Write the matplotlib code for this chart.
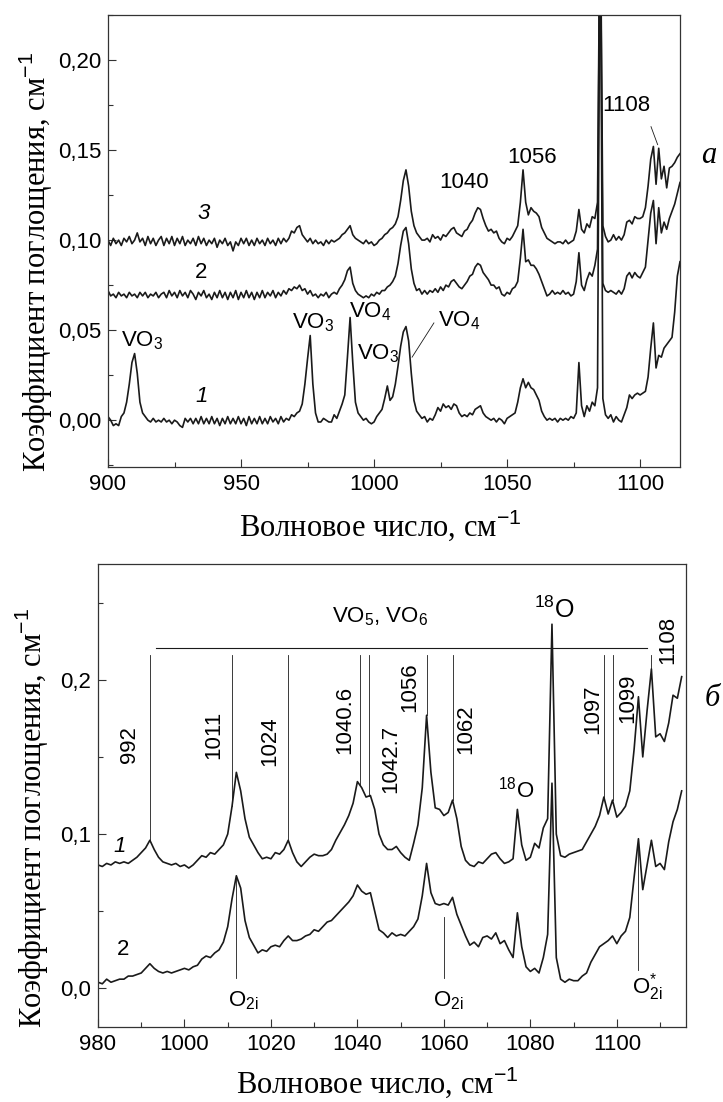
import numpy as np
import matplotlib
matplotlib.use('Agg')
import matplotlib.pyplot as plt
from matplotlib.ticker import MultipleLocator, FuncFormatter

plt.rcParams['font.family'] = ['Liberation Sans', 'DejaVu Sans']
plt.rcParams['mathtext.fontset'] = 'custom'
plt.rcParams['mathtext.rm'] = 'Liberation Sans'
plt.rcParams['mathtext.it'] = 'Liberation Sans:italic'
plt.rcParams['mathtext.bf'] = 'Liberation Sans:bold'

# --- панель (а): 900-1115 см-1, шаг 1 см-1, поглощение в 10^-3 см-1 ---
wn_a = np.arange(900, 1116)
a1 = [2, 0, -3, -2, -3, 2, 4, 10, 20, 32,
      37, 26, 10, 4, 2, 0, -1, 1, -1, 0,
      -1, 1, -1, 0, -2, 0, -1, -3, -4, 1,
      -1, 1, -2, 1, -2, 2, -2, 1, -2, 2,
      -2, 1, -3, 1, -2, 2, -2, 1, -2, 2,
      -2, 1, -3, 2, -2, 1, -2, 2, -2, 1,
      -2, 2, -1, 1, -2, 2, -1, 1, 0, 3,
      2, 4, 5, 9, 20, 34, 47, 20, 4, -1,
      -1, 1, 0, -1, -1, 3, 1, 5, 9, 14,
      35, 57, 32, 10, 4, 2, 0, 1, -1, -2,
      -1, 2, 4, 6, 12, 19, 11, 13, 20, 30,
      41, 49, 52, 44, 26, 11, 5, 3, 1, 2,
      -1, 1, 0, 3, 7, 5, 9, 7, 8, 6,
      9, 8, 4, 2, 3, 2, 4, 3, 6, 7,
      8, 4, 2, 1, 0, 1, -1, 1, 0, -2,
      1, 2, 3, 4, 10, 18, 23, 18, 21, 18,
      17, 14, 11, 5, 2, 0, 1, 0, 1, -1,
      1, 0, 1, 0, 2, 1, 4, 32, 8, 2,
      8, 5, 10, 8, 18, 300, 12, 3, 1, 3,
      -1, 2, 0, -1, 3, 7, 14, 12, 14, 15,
      14, 15, 16, 24, 40, 54, 29, 36, 35, 40,
      42, 44, 46, 60, 80, 88]
a2 = [72, 69, 70, 68, 71, 69, 70, 68, 71, 69,
      70, 68, 71, 69, 71, 68, 70, 69, 71, 68,
      70, 71, 68, 72, 69, 71, 68, 72, 69, 71,
      68, 72, 70, 67, 71, 69, 72, 68, 70, 67,
      71, 68, 72, 68, 71, 67, 71, 68, 72, 67,
      71, 68, 72, 68, 71, 67, 71, 68, 72, 68,
      71, 69, 72, 68, 71, 69, 72, 70, 73, 72,
      74, 73, 75, 72, 73, 70, 72, 69, 70, 68,
      70, 69, 71, 68, 70, 71, 70, 73, 75, 78,
      83, 85, 76, 72, 70, 69, 68, 69, 68, 70,
      69, 71, 70, 72, 72, 74, 75, 77, 80, 87,
      97, 105, 107, 98, 84, 76, 72, 73, 70, 72,
      70, 72, 71, 73, 71, 74, 72, 75, 74, 77,
      78, 76, 74, 73, 75, 77, 80, 81, 85, 87,
      86, 82, 80, 78, 75, 75, 73, 74, 70, 69,
      71, 70, 73, 74, 77, 90, 106, 88, 89, 86,
      86, 84, 81, 77, 73, 69, 70, 72, 70, 71,
      70, 72, 70, 71, 69, 70, 77, 93, 75, 72,
      78, 82, 80, 86, 95, 300, 76, 72, 71, 72,
      71, 70, 72, 70, 73, 80, 82, 79, 82, 80,
      79, 82, 85, 100, 115, 122, 98, 118, 104, 110,
      106, 112, 116, 120, 126, 132]
a3 = [100, 97, 101, 98, 100, 97, 101, 99, 102, 98,
      100, 104, 99, 101, 97, 102, 98, 101, 97, 100,
      102, 97, 101, 98, 102, 97, 101, 98, 102, 97,
      100, 98, 101, 97, 102, 98, 101, 97, 100, 98,
      101, 96, 100, 98, 101, 97, 99, 94, 99, 97,
      101, 98, 101, 97, 100, 97, 101, 98, 100, 97,
      101, 98, 100, 97, 101, 98, 101, 99, 101, 105,
      104, 107, 108, 103, 101, 99, 101, 98, 100, 98,
      99, 97, 100, 98, 100, 99, 100, 101, 103, 104,
      106, 108, 103, 101, 100, 99, 98, 100, 98, 99,
      97, 98, 100, 101, 103, 104, 106, 107, 109, 113,
      122, 133, 139, 130, 116, 108, 104, 102, 100, 100,
      101, 99, 103, 101, 102, 100, 103, 102, 104, 106,
      107, 104, 103, 102, 105, 106, 109, 111, 115, 118,
      117, 112, 108, 105, 106, 104, 105, 101, 99, 98,
      101, 100, 102, 105, 108, 121, 139, 121, 114, 118,
      116, 115, 113, 107, 104, 101, 100, 99, 98, 99,
      99, 98, 100, 98, 99, 100, 105, 117, 106, 104,
      109, 107, 113, 112, 121, 300, 108, 102, 99, 100,
      103, 100, 102, 100, 103, 110, 111, 109, 113, 112,
      112, 113, 118, 130, 145, 152, 131, 151, 134, 141,
      129, 140, 141, 143, 146, 148]

# --- панель (б): 980-1115 см-1 ---
wn_b = np.arange(980, 1116)
b1 = [80, 79, 81, 80, 82, 81, 82, 81, 83, 85,
      88, 91, 96, 90, 85, 82, 81, 80, 81, 79,
      80, 78, 80, 83, 86, 85, 88, 87, 90, 93,
      100, 118, 140, 128, 110, 98, 93, 88, 84, 85,
      84, 88, 87, 90, 96, 88, 82, 79, 82, 85,
      87, 86, 86, 87, 90, 96, 101, 106, 112, 120,
      134, 130, 124, 125, 116, 100, 93, 90, 90, 92,
      88, 85, 83, 94, 106, 130, 177, 140, 117, 116,
      112, 114, 122, 110, 92, 83, 80, 79, 82, 81,
      84, 87, 88, 84, 81, 82, 84, 116, 93, 83,
      85, 94, 91, 104, 110, 236, 100, 86, 85, 87,
      88, 89, 90, 95, 100, 105, 112, 124, 113, 122,
      111, 114, 118, 128, 155, 189, 150, 180, 207, 163,
      165, 160, 172, 190, 188, 202]
b2 = [4, 3, 6, 4, 5, 6, 6, 8, 8, 9,
      10, 13, 16, 13, 11, 10, 11, 10, 11, 12,
      13, 12, 14, 15, 19, 21, 20, 23, 25, 30,
      40, 58, 73, 65, 44, 33, 28, 23, 25, 24,
      27, 28, 27, 31, 34, 31, 31, 32, 34, 35,
      38, 37, 40, 43, 44, 47, 50, 53, 56, 60,
      67, 63, 61, 62, 50, 38, 36, 33, 36, 34,
      35, 34, 37, 40, 45, 60, 81, 62, 55, 54,
      55, 54, 59, 48, 41, 34, 28, 30, 27, 33,
      34, 32, 36, 29, 31, 25, 20, 49, 27, 14,
      11, 13, 10, 20, 35, 133, 20, 6, 4, 6,
      5, 5, 8, 10, 17, 22, 27, 29, 31, 34,
      29, 34, 37, 46, 72, 97, 64, 80, 96, 79,
      81, 77, 95, 108, 116, 128]

# отмеченные полосы VO5, VO6 и O2i
marks_b = [992, 1011, 1024, 1040.6, 1042.7, 1056, 1062, 1097, 1099, 1108]
o2i_b = [1012, 1060, 1105]

W, H = 723, 1102
LC = '#1a1a1a'
SERIF = 'Liberation Serif'


def comma_fmt(nd):
    return FuncFormatter(lambda v, p: f'{v:.{nd}f}'.replace('.', ','))


def style_axes(ax):
    for s in ax.spines.values():
        s.set_color('#333333')
        s.set_linewidth(0.9)
    ax.tick_params(which='both', direction='in', top=False, right=False,
                   labelsize=16, color='#333333')
    ax.tick_params(which='major', length=6, width=0.8, pad=5)
    ax.tick_params(which='minor', length=3.5, width=0.8)


fig = plt.figure(figsize=(W / 100, H / 100), dpi=100)

# ---------------- панель а ----------------
ax1 = fig.add_axes([108 / W, 1 - 467 / H, 572 / W, 452 / H])
for y in (a1, a2, a3):
    ax1.plot(wn_a, np.array(y) * 1e-3, color=LC, lw=1.2)
ax1.set_xlim(900, 1115)
ax1.set_ylim(-0.026, 0.225)
ax1.xaxis.set_major_locator(MultipleLocator(50))
ax1.xaxis.set_minor_locator(MultipleLocator(25))
ax1.yaxis.set_major_locator(MultipleLocator(0.05))
ax1.yaxis.set_minor_locator(MultipleLocator(0.025))
ax1.yaxis.set_major_formatter(comma_fmt(2))
style_axes(ax1)

fs = 16
ax1.text(936, 0.115, '3', fontsize=fs, style='italic', ha='center', va='center')
ax1.text(935, 0.082, '2', fontsize=fs, ha='center', va='center')
ax1.text(935, 0.013, '1', fontsize=fs, style='italic', ha='center', va='center')
ax1.text(905, 0.044, 'VO$_3$', fontsize=fs, ha='left', va='center')
ax1.text(969, 0.054, 'VO$_3$', fontsize=fs, ha='left', va='center')
ax1.text(990.5, 0.060, 'VO$_4$', fontsize=fs, ha='left', va='center')
ax1.text(993.5, 0.037, 'VO$_3$', fontsize=fs, ha='left', va='center')
ax1.text(1024, 0.055, 'VO$_4$', fontsize=fs, ha='left', va='center')
ax1.plot([1022.5, 1014.3], [0.054, 0.035], color=LC, lw=0.6)
ax1.text(1034, 0.132, '1040', fontsize=fs, ha='center', va='center')
ax1.text(1059.5, 0.146, '1056', fontsize=fs, ha='center', va='center')
ax1.text(1095, 0.175, '1108', fontsize=fs, ha='center', va='center')
ax1.plot([1104.1, 1106.6], [0.163, 0.153], color=LC, lw=0.6)
ax1.text(1.05, 0.69, 'а', transform=ax1.transAxes, fontsize=22,
         style='italic', family=SERIF, ha='center', va='center')

# ---------------- панель б ----------------
ax2 = fig.add_axes([98 / W, 1 - 1027 / H, 588 / W, 463 / H])
for y in (b1, b2):
    ax2.plot(wn_b, np.array(y) * 1e-3, color=LC, lw=1.2)
ax2.set_xlim(980, 1116)
ax2.set_ylim(-0.025, 0.275)
ax2.xaxis.set_major_locator(MultipleLocator(20))
ax2.xaxis.set_minor_locator(MultipleLocator(10))
ax2.yaxis.set_major_locator(MultipleLocator(0.1))
ax2.yaxis.set_minor_locator(MultipleLocator(0.05))
ax2.yaxis.set_major_formatter(comma_fmt(1))
style_axes(ax2)

b1v = np.array(b1) * 1e-3
b2v = np.array(b2) * 1e-3
top_y = 0.216
ax2.plot([993.3, 1107], [0.2208, 0.2208], color=LC, lw=0.8)
lab_pos = {992: (987.3, 0.158), 1011: (1006.8, 0.164), 1024: (1019.8, 0.160),
           1040.6: (1037.0, 0.174), 1042.7: (1047.7, 0.149), 1056: (1052.2, 0.195),
           1062: (1065.0, 0.168), 1097: (1094.4, 0.181), 1099: (1102.5, 0.188),
           1108: (1111.8, 0.226)}
for m in marks_b:
    yb = np.interp(m, wn_b, b1v)
    ax2.plot([m, m], [top_y, yb], color=LC, lw=0.6)
    tx, ty = lab_pos[m]
    ax2.text(tx, ty, f'{m:g}', rotation=90, fontsize=fs, ha='center', va='center')

o2i_bottom = {1012: 0.007, 1060: 0.0065, 1105: 0.012}
o2i_top = {1012: None, 1060: 0.046, 1105: None}
for m in o2i_b:
    yt = o2i_top[m] if o2i_top[m] is not None else np.interp(m, wn_b, b2v)
    ax2.plot([m, m], [yt, o2i_bottom[m]], color=LC, lw=0.6)
ax2.text(1013.5, -0.008, 'O$_{\\mathrm{2i}}$', fontsize=fs, ha='center', va='center')
ax2.text(1061, -0.008, 'O$_{\\mathrm{2i}}$', fontsize=fs, ha='center', va='center')
ax2.text(1107, 0.001, 'O$_{\\mathrm{2i}}^{*}$', fontsize=fs, ha='center', va='center')

ax2.text(1045.2, 0.241, 'VO$_5$, VO$_6$', fontsize=fs, ha='center', va='center')
ax2.text(1085.5, 0.245, '$^{18}$O', fontsize=18, ha='center', va='center')
ax2.text(1076.8, 0.129, '$^{18}$O', fontsize=fs, ha='center', va='center')
ax2.text(985, 0.092, '1', fontsize=fs, style='italic', ha='center', va='center')
ax2.text(985.8, 0.025, '2', fontsize=fs, ha='center', va='center')
ax2.text(1.045, 0.71, 'б', transform=ax2.transAxes, fontsize=22,
         style='italic', family=SERIF, ha='center', va='center')

# подписи осей
ylab = 'Коэффициент поглощения, см$^{-1}$'
xlab = 'Волновое число, см$^{-1}$'
fig.text(36 / W, 1 - 262 / H, ylab, rotation=90, ha='center', va='center',
         family=SERIF, fontsize=22)
fig.text(32 / W, 1 - 818 / H, ylab, rotation=90, ha='center', va='center',
         family=SERIF, fontsize=22)
fig.text(380 / W, 1 - 536 / H, xlab, ha='center', va='baseline',
         family=SERIF, fontsize=22)
fig.text(377 / W, 1 - 1093 / H, xlab, ha='center', va='baseline',
         family=SERIF, fontsize=22)

fig.savefig('out.png', dpi=100)
